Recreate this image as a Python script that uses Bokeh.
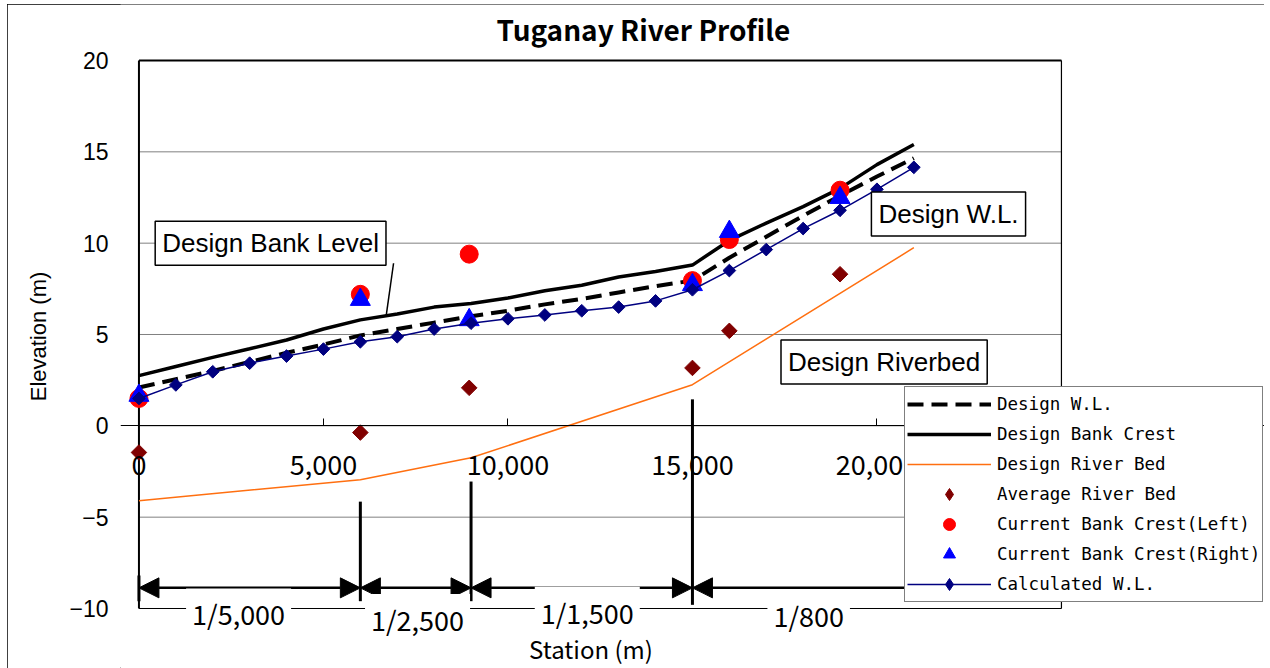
import numpy as np
from bokeh.plotting import figure
from bokeh.models import (Range1d, LinearAxis, FixedTicker, Label, Arrow, NormalHead,
                          Legend, LegendItem, Grid)
from bokeh.embed import file_html
from bokeh.resources import INLINE

# ---------------- data ----------------
stations = [0, 1000, 2000, 3000, 4000, 5000, 6000, 7000, 8000, 9000, 10000,
            11000, 12000, 13000, 14000, 15000, 16000, 17000, 18000, 19000, 20000, 21000]
design_wl = [2.1, 2.55, 3.0, 3.5, 4.0, 4.45, 4.95, 5.3, 5.65, 6.0, 6.3,
             6.65, 6.95, 7.3, 7.65, 7.95, 9.2, 10.35, 11.5, 12.6, 13.65, 14.65]
design_crest = [2.75, 3.25, 3.75, 4.22, 4.7, 5.3, 5.8, 6.12, 6.5, 6.7, 7.0,
                7.4, 7.7, 8.15, 8.45, 8.8, 10.15, 11.1, 12.0, 13.0, 14.3, 15.4]
calc_wl = [1.5, 2.24, 2.96, 3.43, 3.82, 4.2, 4.6, 4.88, 5.3, 5.62, 5.86,
           6.07, 6.3, 6.5, 6.84, 7.45, 8.5, 9.65, 10.8, 11.8, 12.95, 14.15]

bed_stations = [0, 6000, 9000, 15000, 21000]
design_bed = [-4.1, -2.95, -1.75, 2.25, 9.75]

obs_stations = [0, 6000, 8950, 15000, 16000, 19000]
avg_bed = [-1.46, -0.37, 2.08, 3.17, 5.2, 8.3]
bank_left = [1.5, 7.2, 9.4, 7.95, 10.2, 12.9]
bank_right = [1.66, 6.91, 5.8, 7.72, 10.63, 12.49]

slope_breaks = [0, 6000, 9000, 15000, 21000]
slope_labels = ["1/5,000", "1/2,500", "1/1,500", "1/800"]

x_ticks = [0, 5000, 10000, 15000, 20000, 25000]
x_tick_labels = ["0", "5,000", "10,000", "15,000", "20,000", "25,000"]
y_ticks = [-10, -5, 0, 5, 10, 15, 20]
y_tick_labels = ["\u221210", "\u22125", "0", "5", "10", "15", "20"]

X_MAX, Y_MIN, Y_MAX = 25000, -10, 20   # plot-area limits

# ---------------- figure ----------------
p = figure(width=1257, height=664,
           x_range=Range1d(-500, 30503), y_range=Range1d(-13.285, 23.066),
           output_backend="svg", toolbar_location=None,
           x_axis_location=None, y_axis_location=None,
           min_border_left=113, min_border_right=0,
           min_border_top=0, min_border_bottom=0,
           outline_line_color=None,
           background_fill_color="white", border_fill_color="white")
p.styles = {"margin-left": "7px", "margin-top": "4px",
            "outline": "1px solid black", "outline-offset": "-1px"}

p.center = [r for r in p.center if not isinstance(r, Grid)]

CJK = "Noto Sans CJK JP"
ARIAL = "Liberation Sans"

# gridlines and plot-area border
p.segment(x0=[0] * len(y_ticks), y0=y_ticks, x1=[X_MAX] * len(y_ticks), y1=y_ticks,
          line_color="#808080", line_width=1)
p.segment(x0=[0, X_MAX, 0], y0=[Y_MIN, Y_MIN, Y_MAX], x1=[0, X_MAX, X_MAX],
          y1=[Y_MAX, Y_MAX, Y_MAX], line_color="black", line_width=[2, 1.2, 2])
p.segment(x0=[0], y0=[Y_MIN], x1=[X_MAX], y1=[Y_MIN], line_color="black", line_width=1.2)

# title
p.add_layout(Label(x=13672, y=21.75, text="Tuganay River Profile", text_align="center",
                   text_baseline="middle", text_font=CJK, text_font_size="28px",
                   text_font_style="bold", text_color="black"))

# x axis at y = 0
xax = LinearAxis(fixed_location=0, ticker=FixedTicker(ticks=x_ticks),
                 major_label_overrides=dict(zip(x_ticks, x_tick_labels)),
                 major_tick_in=7, major_tick_out=0, minor_tick_in=0, minor_tick_out=0,
                 axis_line_color="black", major_tick_line_color="black",
                 major_label_text_font=CJK, major_label_text_font_size="27px",
                 major_label_text_color="black", major_label_standoff=29)
p.add_layout(xax, "below")

# y axis (labels only; its line is drawn as the plot-area border)
yax = LinearAxis(ticker=FixedTicker(ticks=y_ticks),
                 major_label_overrides=dict(zip(y_ticks, y_tick_labels)),
                 major_tick_in=0, major_tick_out=0, minor_tick_in=0, minor_tick_out=0,
                 axis_line_color=None,
                 major_label_text_font=ARIAL, major_label_text_font_size="23px",
                 major_label_text_color="black", major_label_standoff=12,
                 axis_label="Elevation (m)", axis_label_text_font=ARIAL,
                 axis_label_text_font_size="22px", axis_label_text_font_style="normal",
                 axis_label_text_color="black", axis_label_standoff=15)
p.add_layout(yax, "left")

# ---------------- series ----------------
r_crest = p.line(stations, design_crest, line_color="black", line_width=3.5)
r_dwl = p.line(stations, design_wl, line_color="black", line_width=4, line_dash="16 8")
r_bed = p.line(bed_stations, design_bed, line_color="#FF6F10", line_width=1.5)
r_avg = p.scatter(obs_stations, avg_bed, marker="square", angle=np.pi / 4, size=11,
                  fill_color="#800000", line_color="#800000")
r_left = p.scatter(obs_stations, bank_left, marker="circle", size=18,
                   fill_color="#FF0000", line_color="#FF0000")
r_right = p.scatter(obs_stations, bank_right, marker="triangle", size=20,
                    fill_color="#0000FF", line_color="#0000FF")
r_calc_l = p.line(stations, calc_wl, line_color="#000080", line_width=1.5)
r_calc_m = p.scatter(stations, calc_wl, marker="square", angle=np.pi / 4, size=9,
                     fill_color="#000080", line_color="#000080")

# legend-only diamond glyphs (no points drawn)
leg_avg = p.scatter([np.nan], [np.nan], marker="diamond", fill_color="#800000",
                    line_color="#800000")
leg_calc = p.scatter([np.nan], [np.nan], marker="diamond", fill_color="#000080",
                     line_color="#000080")

# ---------------- slope annotations ----------------
divider_top = [-8.2, -4.15, -3.05, 1.45]
divider_bottom = [-9.6, -9.6, -9.6, -9.8]
p.segment(x0=slope_breaks[:4], y0=divider_bottom, x1=slope_breaks[:4], y1=divider_top,
          line_color="black", line_width=3)

arrow_y = -8.87
for i in range(4):
    a, b = slope_breaks[i], slope_breaks[i + 1]
    end_head = NormalHead(size=20, fill_color="black", line_color="black") if i < 3 else None
    p.add_layout(Arrow(x_start=a, y_start=arrow_y, x_end=b, y_end=arrow_y,
                       line_color="black", line_width=2.5,
                       start=NormalHead(size=20, fill_color="black", line_color="black"),
                       end=end_head))

slope_label_y = [-10.3, -10.6, -10.2, -10.4]
slope_label_x = [2700, 7550, 12150, 18150]
for i, txt in enumerate(slope_labels):
    p.add_layout(Label(x=slope_label_x[i], y=slope_label_y[i], text=txt, text_align="center",
                       text_baseline="middle", text_font=CJK, text_font_size="27px",
                       text_color="black", background_fill_color="white",
                       background_fill_alpha=1.0, padding=6))

# x-axis title
p.add_layout(Label(x=12250, y=-12.2, text="Station (m)", text_align="center",
                   text_baseline="middle", text_font=CJK, text_font_size="24px",
                   text_color="black"))

# ---------------- callout boxes ----------------
def box(x, y, txt):
    p.add_layout(Label(x=x, y=y, text=txt, text_align="left", text_baseline="middle",
                       text_font=ARIAL, text_font_size="26px", text_color="black",
                       background_fill_color="white", background_fill_alpha=1.0,
                       border_line_color="black", border_line_width=1.5, padding=7))

box(440, 10.0, "Design Bank Level")
box(19850, 11.6, "Design W.L.")
box(17400, 3.5, "Design Riverbed")

lead_x = 6700
lead_y = float(np.interp(lead_x, stations, design_crest))
p.segment(x0=[6900], y0=[8.9], x1=[lead_x], y1=[lead_y], line_color="black", line_width=1.5)

# ---------------- legend ----------------
legend = Legend(items=[
    LegendItem(label="Design W.L.", renderers=[r_dwl]),
    LegendItem(label="Design Bank Crest", renderers=[r_crest]),
    LegendItem(label="Design River Bed", renderers=[r_bed]),
    LegendItem(label="Average River Bed", renderers=[leg_avg]),
    LegendItem(label="Current Bank Crest(Left)", renderers=[r_left]),
    LegendItem(label="Current Bank Crest(Right)", renderers=[r_right]),
    LegendItem(label="Calculated W.L.", renderers=[r_calc_l, leg_calc]),
], location=(784, 66), orientation="vertical",
    border_line_color="black", border_line_width=1,
    background_fill_color="white", background_fill_alpha=1.0,
    label_text_font="DejaVu Sans Mono", label_text_font_size="17.5px",
    label_text_color="black",
    glyph_width=84, glyph_height=30, label_height=20, label_width=263, spacing=0,
    padding=2, label_standoff=6, margin=0)
p.add_layout(legend)

open("out.html", "w").write(file_html(p, INLINE))
